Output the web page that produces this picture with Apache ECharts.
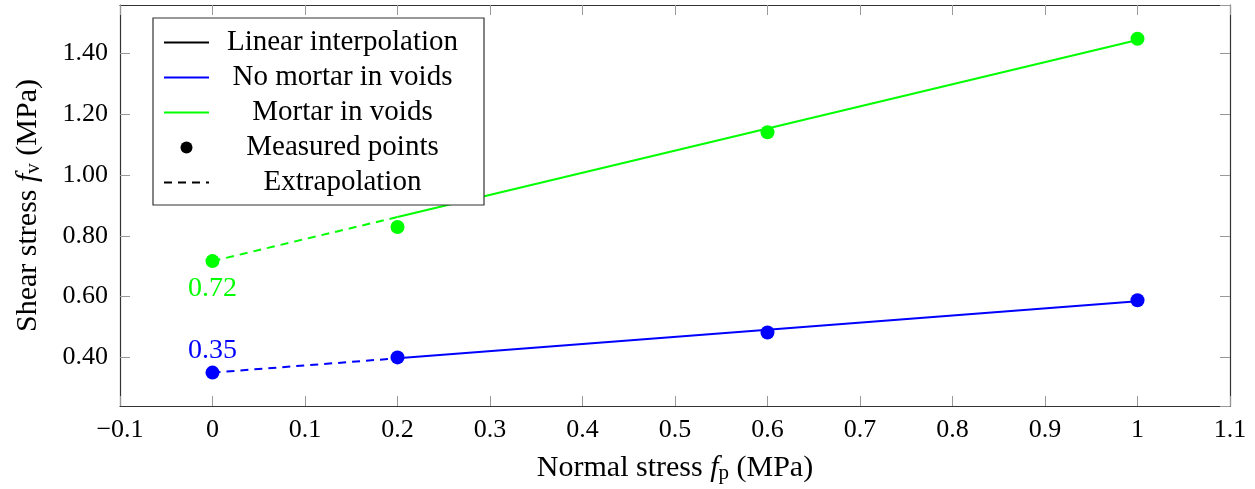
<!DOCTYPE html>
<html>
<head>
<meta charset="utf-8">
<script src="https://cdn.jsdelivr.net/npm/echarts@6/dist/echarts.min.js"></script>
<style>html,body{margin:0;padding:0;background:#fff}#c{width:1255px;height:489px}</style>
</head>
<body>
<div id="c"></div>
<script>
const measuredX = [0, 0.2, 0.6, 1];
const noMortarPoints = [0.35, 0.40, 0.482, 0.588];
const mortarPoints = [0.717, 0.829, 1.141, 1.449];
const fitX = [0, 0.2, 1];
const noMortarFit = [0.35, 0.397, 0.585];
const mortarFit = [0.717, 0.862, 1.445];
const interceptLabels = ['0.35', '0.72'];
const legendNames = ['Linear interpolation', 'No mortar in voids', 'Mortar in voids', 'Measured points', 'Extrapolation'];

const FONT = 'Liberation Serif';
const BLUE = '#0000ff', GREEN = '#00ff00';
const pts = (xs, ys) => xs.map((x, i) => [x, ys[i]]);

const chart = echarts.init(document.getElementById('c'));
const subRich = {
  t: {fontFamily: FONT, fontSize: 30, lineHeight: 32, color: '#000'},
  i: {fontFamily: FONT, fontSize: 30, lineHeight: 32, fontStyle: 'italic', color: '#000'},
  s: {fontFamily: FONT, fontSize: 21, lineHeight: 20, verticalAlign: 'bottom', color: '#000'}
};
const xFmt = v => { const s = String(+(+v).toFixed(1)); return v < 0 ? '\u2212' + s.slice(1) : s; };
const commonX = {type: 'value', min: -0.1, max: 1.1, interval: 0.1};
const commonY = {type: 'value', min: 0.24, max: 1.56, minInterval: 0.2, maxInterval: 0.2};
const frame = {show: true, onZero: false, lineStyle: {color: '#333', width: 1.2}};
const ticks = {show: true, inside: true, length: 10, lineStyle: {color: '#999', width: 1}};

chart.setOption({
  animation: false,
  grid: {left: 120, right: 25, top: 5, bottom: 82},
  xAxis: [
    Object.assign({}, commonX, {
      position: 'bottom', axisLine: frame, axisTick: ticks, splitLine: {show: false},
      axisLabel: {formatter: xFmt, fontFamily: FONT, fontSize: 26, color: '#000', margin: 11},
      name: '{t|Normal stress }{i|f}{s|p}{t| (MPa)}', nameLocation: 'middle', nameGap: 46,
      nameTextStyle: {rich: subRich}
    }),
    Object.assign({}, commonX, {
      position: 'top', axisLine: frame, axisTick: ticks, splitLine: {show: false}, axisLabel: {show: false}
    })
  ],
  yAxis: [
    Object.assign({}, commonY, {
      position: 'left', axisLine: frame, axisTick: ticks, splitLine: {show: false},
      axisLabel: {formatter: v => (+v).toFixed(2), fontFamily: FONT, fontSize: 26, color: '#000', margin: 12,
        showMinLabel: false, showMaxLabel: false},
      name: '{t|Shear stress }{i|f}{s|v}{t| (MPa)}', nameLocation: 'middle', nameGap: 76,
      nameTextStyle: {rich: subRich}
    }),
    Object.assign({}, commonY, {
      position: 'right', axisLine: frame, axisTick: ticks, splitLine: {show: false}, axisLabel: {show: false}
    })
  ],
  legend: {
    orient: 'vertical', left: 153, top: 18,
    padding: [10, 13, 8, 10], itemGap: 6, itemWidth: 45, itemHeight: 12,
    borderColor: '#333', borderWidth: 1.2, backgroundColor: '#fff',
    data: legendNames.map((n, i) => (i === 3 ? {name: n, itemStyle: {opacity: 1}} : {name: n, itemStyle: {opacity: 0}})),
    formatter: '{a|{name}}',
    textStyle: {rich: {a: {fontFamily: FONT, fontSize: 29, lineHeight: 26, width: 257, align: 'center', color: '#000'}}},
    z: 10
  },
  series: [
    {name: 'Linear interpolation', type: 'line', data: [], symbol: 'none', lineStyle: {color: '#000', width: 2}, itemStyle: {color: '#000'}},
    {name: 'No mortar in voids', type: 'line', data: pts(fitX.slice(1), noMortarFit.slice(1)), symbol: 'none',
      lineStyle: {color: BLUE, width: 2}, itemStyle: {color: BLUE}, z: 2},
    {name: 'Mortar in voids', type: 'line', data: pts(fitX.slice(1), mortarFit.slice(1)), symbol: 'none',
      lineStyle: {color: GREEN, width: 2}, itemStyle: {color: GREEN}, z: 2},
    {name: 'Measured points', type: 'scatter', data: [], symbol: 'circle', itemStyle: {color: '#000', opacity: 1}},
    {name: 'Extrapolation', type: 'line', data: [], symbol: 'none', lineStyle: {color: '#000', width: 2, type: [8, 6]}, itemStyle: {color: '#000'}},
    {name: 'No mortar extrapolation', type: 'line', data: pts(fitX.slice(0, 2), noMortarFit.slice(0, 2)), symbol: 'none',
      lineStyle: {color: BLUE, width: 2, type: [8, 6]}, z: 2},
    {name: 'Mortar extrapolation', type: 'line', data: pts(fitX.slice(0, 2), mortarFit.slice(0, 2)), symbol: 'none',
      lineStyle: {color: GREEN, width: 2, type: [8, 6]}, z: 2},
    {name: 'No mortar points', type: 'scatter', symbolSize: 14, itemStyle: {color: BLUE, opacity: 1}, z: 3,
      data: pts(measuredX, noMortarPoints).map((p, i) => i === 0 ? {value: p, label: {show: true, position: 'top', distance: 1,
        formatter: interceptLabels[0], color: BLUE, fontFamily: FONT, fontSize: 28}} : p)},
    {name: 'Mortar points', type: 'scatter', symbolSize: 14, itemStyle: {color: GREEN, opacity: 1}, z: 3,
      data: pts(measuredX, mortarPoints).map((p, i) => i === 0 ? {value: p, label: {show: true, position: 'bottom', distance: 7,
        formatter: interceptLabels[1], color: GREEN, fontFamily: FONT, fontSize: 28}} : p)}
  ]
});
</script>
</body>
</html>
